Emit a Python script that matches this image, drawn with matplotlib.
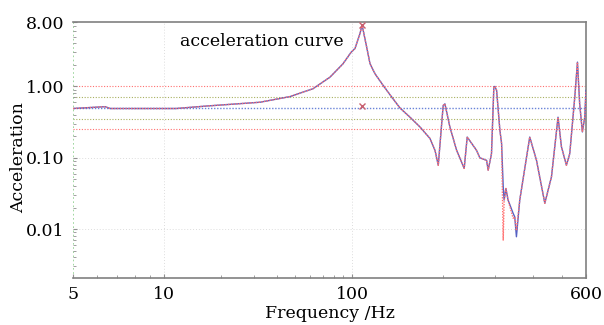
import numpy as np
import matplotlib
matplotlib.use("Agg")
import matplotlib.pyplot as plt
from matplotlib.ticker import FixedLocator

plt.rcParams['font.family'] = ['DejaVu Serif']

# response curve (Hz, acceleration)
freq = [5.0, 6.38, 6.63, 8.33, 11.6, 16.7, 32.4, 46.8, 62.1, 76.4, 89.6, 98.8,
        102.3, 106.3, 108.0, 111.9, 114.8, 119.3, 127.0, 135.5, 144.3, 155.9,
        168.3, 181.7, 188.8, 193.6, 201.0, 203.7, 211.6, 222.8, 236.1, 241.6,
        259.5, 266.0, 280.2, 283.7, 291.0, 296.3, 298.6, 302.6, 310.3, 314.4,
        318.3, 320.6, 324.9, 330.4, 343.4, 347.7, 352.2, 361.3, 390.0, 410.7,
        437.7, 460.6, 484.3, 497.2, 516.5, 529.8, 550.6, 562.0, 571.6, 583.6,
        594.2, 600.0]
accel = [0.49, 0.52, 0.49, 0.49, 0.49, 0.53, 0.60, 0.72, 0.93, 1.35, 2.08, 3.0,
         3.4, 5.5, 7.3, 3.55, 2.08, 1.5, 1.03, 0.71, 0.50, 0.37,
         0.27, 0.186, 0.127, 0.0785, 0.54, 0.57, 0.27, 0.127, 0.071, 0.195,
         0.127, 0.10, 0.092, 0.067, 0.114, 0.98, 1.0, 0.88, 0.243, 0.158,
         0.039, 0.0255, 0.037, 0.0255, 0.0166, 0.0148, 0.0078, 0.0255, 0.195, 0.092,
         0.023, 0.054, 0.37, 0.142, 0.0785, 0.114, 0.71, 2.19, 0.57, 0.23,
         0.37, 0.88]

# second channel (dotted) differs only around 320-350 Hz
accel_red = list(accel)
accel_red[42] = 0.0070
accel_red[46] = 0.0142
accel_red[48] = 0.0095

# reference and tolerance lines
ref_level = 0.5
alarm_levels = [0.707, 0.354]
abort_levels = [1.0, 0.25]

peak_marks_f = [108.0, 108.0]
peak_marks_a = [7.3, 0.53]

x_ticks = [5, 10, 100, 600]
x_minor = [6, 7, 8, 9, 20, 30, 40, 50, 60, 70, 80, 90, 200, 300, 400, 500]
y_ticks = [8.0, 1.0, 0.1, 0.01]
y_tick_labels = ['8.00', '1.00', '0.10', '0.01']

# the frequency axis in the original is not a single log scale:
# each decade has its own width, so use a piecewise-log mapping
knots_f = np.log10([5, 10, 100, 600])
knots_u = np.array([0.0, 91.0, 279.0, 513.0])


def fwd(f):
    f = np.clip(np.asarray(f, dtype=float), 1e-3, None)
    lf = np.log10(f)
    return np.interp(lf, knots_f, knots_u) + \
        np.where(lf < knots_f[0], (lf - knots_f[0]) * 302, 0) + \
        np.where(lf > knots_f[-1], (lf - knots_f[-1]) * 301, 0)


def inv(u):
    u = np.asarray(u, dtype=float)
    return 10 ** np.interp(u, knots_u, knots_f)


fig = plt.figure(figsize=(6.04, 3.25), dpi=100)
ax = fig.add_axes([73 / 604, 47 / 325, 513 / 604, 256 / 325])
ax.set_xscale('function', functions=(fwd, inv))
ax.set_yscale('log')
ax.set_xlim(5, 600)
ax.set_ylim(0.00206, 8.0)

# faint grid
for f in [10, 100]:
    ax.axvline(f, color='#dddddd', lw=0.7, ls=(0, (1, 2)), zorder=0)
for a in [0.1, 0.01]:
    ax.axhline(a, color='#dddddd', lw=0.7, ls=(0, (1, 2)), zorder=0)

for lv in abort_levels:
    ax.axhline(lv, color='#ff7070', lw=0.8, ls=(0, (1, 1.5)), zorder=1)
for lv in alarm_levels:
    ax.axhline(lv, color='#a8b060', lw=0.8, ls=(0, (1, 1.5)), zorder=1)
ax.axhline(ref_level, color='#6a84d8', lw=1.0, ls=(0, (1, 1.2)), zorder=1)
ax.axvline(5, color='#8fd08f', lw=1.2, ls=(0, (1, 1.5)), zorder=1)

ax.plot(freq, accel, color='#5561c4', lw=1.0, zorder=3)
ax.plot(freq, accel_red, color='#ff6f6f', lw=1.0, ls=(0, (1, 1)), zorder=4)
ax.plot(peak_marks_f, peak_marks_a, ls='none', marker='x', color='#c86070',
        ms=5, mew=1.0, zorder=5)

ax.text(0.209, 0.958, 'acceleration curve', transform=ax.transAxes,
        fontsize=12.5, va='top', ha='left')

ax.xaxis.set_major_locator(FixedLocator(x_ticks))
ax.xaxis.set_minor_locator(FixedLocator(x_minor))
ax.set_xticklabels([str(t) for t in x_ticks])
ax.yaxis.set_major_locator(FixedLocator(y_ticks))
ax.set_yticklabels(y_tick_labels)
ax.tick_params(axis='both', which='both', direction='in', colors='#909090',
               labelcolor='black', labelsize=12.5)
ax.tick_params(axis='both', which='major', length=3, pad=6)
ax.tick_params(axis='both', which='minor', length=2)

for side in ['top', 'right', 'bottom']:
    ax.spines[side].set_color('#808080')
    ax.spines[side].set_linewidth(1.2)
ax.spines['left'].set_visible(False)

ax.set_xlabel('Frequency /Hz', fontsize=12.5, labelpad=1)
ax.set_ylabel('Acceleration', fontsize=12.5)
ax.yaxis.set_label_coords(-0.09, 0.47)

fig.savefig('out.png', dpi=100)
